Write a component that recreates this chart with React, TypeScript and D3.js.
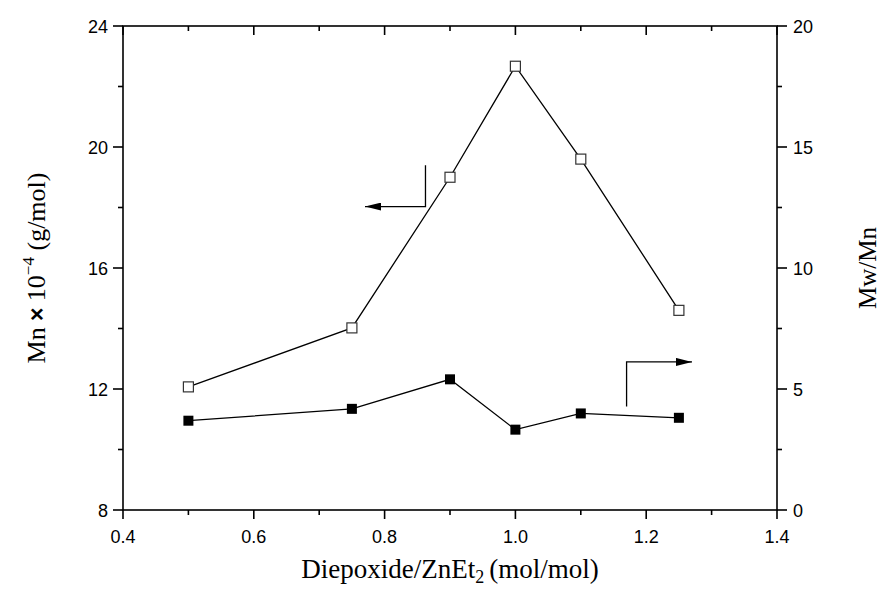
import * as d3 from 'd3';

const W = 882;
const H = 595;
const M = { left: 123, right: 105, top: 26, bottom: 85 };

const ratio = [0.5, 0.75, 0.9, 1.0, 1.1, 1.25];
const mn = [12.07, 14.02, 19.0, 22.67, 19.6, 14.6];
const pdi = [3.69, 4.18, 5.4, 3.32, 3.99, 3.81];

const xTicks = [0.4, 0.6, 0.8, 1.0, 1.2, 1.4];
const leftTicks = [8, 12, 16, 20, 24];
const rightTicks = [0, 5, 10, 15, 20];

const SANS = 'Liberation Sans, Arial, sans-serif';
const SERIF = 'Liberation Serif, Times New Roman, serif';

export default function App() {
  const x = d3.scaleLinear().domain([0.4, 1.4]).range([M.left, W - M.right]);
  const yL = d3.scaleLinear().domain([8, 24]).range([H - M.bottom, M.top]);
  const yR = d3.scaleLinear().domain([0, 20]).range([H - M.bottom, M.top]);

  const x0 = x.range()[0];
  const x1 = x.range()[1];
  const yb = yL.range()[0];
  const yt = yL.range()[1];

  const lineL = d3.line<number>().x((_, i) => x(ratio[i])).y((d) => yL(d));
  const lineR = d3.line<number>().x((_, i) => x(ratio[i])).y((d) => yR(d));

  const xMinor = d3.range(0.5, 1.4, 0.2);
  const lMinor = d3.range(10, 24, 4);
  const rMinor = d3.range(2.5, 20, 5);

  return (
    <svg width={W} height={H} style={{ position: 'absolute', left: 0, top: 0, background: '#fff' }}>
      <defs>
        <marker id="ah" viewBox="0 0 16 8" refX="16" refY="4" markerWidth="16" markerHeight="8" markerUnits="userSpaceOnUse" orient="auto">
          <path d="M0,0 L16,4 L0,8 Z" fill="#000" />
        </marker>
      </defs>

      {/* frame */}
      <rect x={x0} y={yt} width={x1 - x0} height={yb - yt} fill="none" stroke="#000" strokeWidth={1.6} />

      {/* bottom / top ticks */}
      {xTicks.map((t) => (
        <g key={'x' + t}>
          <line x1={x(t)} x2={x(t)} y1={yb} y2={yb + 9} stroke="#000" strokeWidth={1.6} />
          <line x1={x(t)} x2={x(t)} y1={yt} y2={yt + 9} stroke="#000" strokeWidth={1.6} />
          <text x={x(t)} y={yb + 33} textAnchor="middle" fontFamily={SANS} fontSize={18}>
            {d3.format('.1f')(t)}
          </text>
        </g>
      ))}
      {xMinor.map((t) => (
        <g key={'xm' + t}>
          <line x1={x(t)} x2={x(t)} y1={yb} y2={yb + 5} stroke="#000" strokeWidth={1.6} />
          <line x1={x(t)} x2={x(t)} y1={yt} y2={yt + 5} stroke="#000" strokeWidth={1.6} />
        </g>
      ))}

      {/* left axis */}
      {leftTicks.map((t) => (
        <g key={'l' + t}>
          <line x1={x0 - 10} x2={x0} y1={yL(t)} y2={yL(t)} stroke="#000" strokeWidth={1.6} />
          <text x={x0 - 15} y={yL(t) + 6.5} textAnchor="end" fontFamily={SANS} fontSize={18}>
            {t}
          </text>
        </g>
      ))}
      {lMinor.map((t) => (
        <line key={'lm' + t} x1={x0 - 5} x2={x0} y1={yL(t)} y2={yL(t)} stroke="#000" strokeWidth={1.6} />
      ))}

      {/* right axis */}
      {rightTicks.map((t) => (
        <g key={'r' + t}>
          <line x1={x1} x2={x1 + 10} y1={yR(t)} y2={yR(t)} stroke="#000" strokeWidth={1.6} />
          <text x={x1 + 16} y={yR(t) + 6.5} textAnchor="start" fontFamily={SANS} fontSize={18}>
            {t}
          </text>
        </g>
      ))}
      {rMinor.map((t) => (
        <line key={'rm' + t} x1={x1} x2={x1 + 5} y1={yR(t)} y2={yR(t)} stroke="#000" strokeWidth={1.6} />
      ))}

      {/* series */}
      <path d={lineL(mn) || ''} fill="none" stroke="#000" strokeWidth={1.3} />
      <path d={lineR(pdi) || ''} fill="none" stroke="#000" strokeWidth={1.3} />
      {mn.map((v, i) => (
        <rect key={'o' + i} x={x(ratio[i]) - 5} y={yL(v) - 5} width={10} height={10} fill="#fff" stroke="#333" strokeWidth={1.2} />
      ))}
      {pdi.map((v, i) => (
        <rect key={'f' + i} x={x(ratio[i]) - 5} y={yR(v) - 5} width={10} height={10} fill="#000" />
      ))}

      {/* direction arrows */}
      <path d={`M${x(0.8625)},${yL(19.4)} V${yL(18.03)} H${x(0.77)}`} fill="none" stroke="#000" strokeWidth={1.3} markerEnd="url(#ah)" />
      <path d={`M${x(1.17)},${yR(4.28)} V${yR(6.12)} H${x(1.27)}`} fill="none" stroke="#000" strokeWidth={1.3} markerEnd="url(#ah)" />

      {/* axis titles */}
      <text x={450} y={578} textAnchor="middle" fontFamily={SERIF} fontSize={27}>
        Diepoxide/ZnEt<tspan fontSize={18} dy={5}>2</tspan>
        <tspan dy={-5} dx={5}>(mol/mol)</tspan>
      </text>
      <text transform={`translate(45, 268) rotate(-90)`} textAnchor="middle" fontFamily={SERIF} fontSize={26}>
        Mn
        <tspan fontFamily={SANS} fontWeight="bold" fontSize={23}> × </tspan>
        10<tspan fontSize={17} dy={-11}>−4</tspan>
        <tspan dy={11}> (g/mol)</tspan>
      </text>
      <text transform={`translate(876, 268) rotate(-90)`} textAnchor="middle" fontFamily={SERIF} fontSize={25}>
        Mw/Mn
      </text>
    </svg>
  );
}
